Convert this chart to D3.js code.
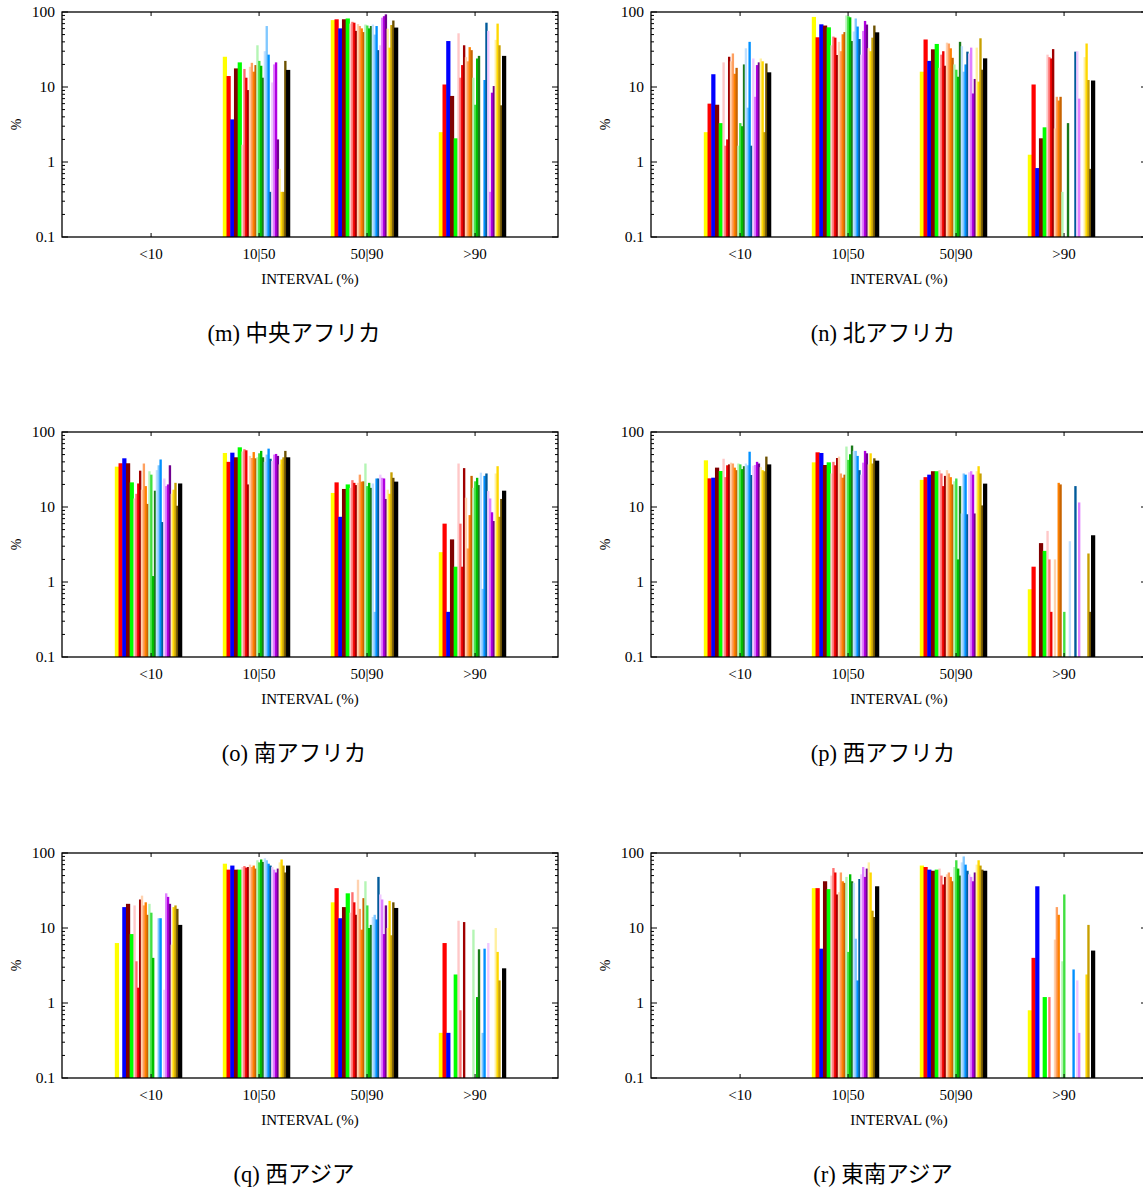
<!DOCTYPE html>
<html><head><meta charset="utf-8">
<script src="https://cdn.jsdelivr.net/npm/d3@7"></script>
<style>body{margin:0;background:#fff;overflow:hidden}</style>
</head><body>
<svg id="c" width="1143" height="1191"></svg>
<script>
// ---------- data ----------
const intervals = ["<10", "10|50", "50|90", ">90"];
const yTickValues = [0.1, 1, 10, 100];
const yTickLabels = ["0.1", "1", "10", "100"];
const xAxisTitle = "INTERVAL (%)";
const yAxisTitle = "%";
const panelLetters = ["(m)", "(n)", "(o)", "(p)", "(q)", "(r)"];
const panelRegions = ["中央アフリカ", "北アフリカ", "南アフリカ", "西アフリカ", "西アジア", "東南アジア"];

const seriesNames = ["Y", "R", "B", "DR", "G",
  "R1", "R2", "R3", "R4", "O1", "O2", "O3", "O4", "G1", "G2", "G3", "G4",
  "B1", "B2", "B3", "B4", "V1", "V2", "V3", "V4", "Y1", "Y2", "Y3", "Y4", "K"];
const seriesKind = ["all", "all", "all", "all", "all",
  "sub", "sub", "sub", "sub", "sub", "sub", "sub", "sub", "sub", "sub", "sub", "sub",
  "sub", "sub", "sub", "sub", "sub", "sub", "sub", "sub", "sub", "sub", "sub", "sub", "all"];
const seriesColors = ["#ffff00", "#ff0000", "#0000ff", "#800000", "#00ff00",
  "#ffc8c8", "#ff7070", "#ee0000", "#a00000",
  "#ffd2b0", "#ffa060", "#ff8000", "#c86400",
  "#b4f5b4", "#40e040", "#00c000", "#1a7a1a",
  "#c0e0ff", "#80c8ff", "#0090ff", "#005a9a",
  "#f0c8ff", "#e080ff", "#b000e0", "#700090",
  "#fff0a0", "#ffd800", "#c8a000", "#6b5000", "#000000"];

// values per panel: one row per interval, one value per series (0 = no bar)
const valuesM = [
  [0,0,0,0,0, 0,0,0,0, 0,0,0,0, 0,0,0,0, 0,0,0,0, 0,0,0,0, 0,0,0,0, 0],
  [25.3,14,3.7,17.7,21.3, 1.7,17.4,13.3,9.1, 18.6,21,16,19.6, 36,22.3,19.2,13.3, 30,65,27,0.4, 11.5,20,21.3,2.0, 0.81,0.4,0.4,22.3, 16.9],
  [78,80,60.5,80,82, 70,74,72,56, 69,65,60.5,54, 68,66,60.5,65, 68,50,65,31, 36,84,88,93, 60,33.5,67,77, 62],
  [2.5,10.8,41,7.6,2.07, 52,13.3,19.6,36, 25,22,34,31, 13.3,5.8,24,26, 0,0,12.4,72, 56,0.4,8.4,10.3, 42.5,70,36,5.7, 26]
];
const valuesN = [
  [2.5,6,14.8,5.8,3.3, 21.3,1.65,2.0,25.3, 22,28,15,18, 1.65,3.3,3.0,20, 32.8,5.3,40,1.65, 24,7.4,19.6,21.3, 24,22,2.5,20.6, 15.7],
  [86,46,68.5,66,62.5, 36,47,45.5,26.7, 40,30,50.5,54, 90,88,85,41, 55,82,64,43.6, 27,56,76,68, 33,30,45.5,66, 53.6],
  [16,43,22.3,31.8,37.5, 18,27,30,19.2, 39,38,32.8,24.5, 20,17,13.7,40, 35,16,20,29.6, 28,33.5,8.2,12.8, 33.5,11.8,44.6,17, 24.1],
  [1.25,10.8,0.83,2.07,2.9, 27,25,24,32, 2.8,7.4,6.6,7.4, 0.4,0,0,3.3, 0,0,0,29.6, 30,7,0,0, 25,38,12.4,0.81, 12.2]
];
const valuesO = [
  [34.5,38.3,44.6,38.3,21.3, 13,15,20.6,30.5, 17,38,19,11, 30,27,1.2,16.5, 31,36,43,6.3, 24,19,20,36, 15,17,21,10.4, 20.6],
  [52.5,40,53,46,62.5, 55,59,57,20, 48,45,54,44.6, 46,52,56,46, 40,50,60,44, 41,50,51,48, 37,43,46,56, 46],
  [15.4,21.3,7.4,17.4,20, 18,22.8,21,19.6, 21,27,21.8,22, 38,19,21,18, 20.6,0.4,24,24, 27,24.5,24,12.8, 17,15,29,24.5, 21.8],
  [2.5,6,0.4,3.7,1.6, 38,6,1.6,33, 13.3,2.8,7.8,26, 18,22,24.5,19.6, 28.7,0.81,26,28, 16.3,13,8.5,6.5, 28,35,7.4,12.8, 16.5]
];
const valuesP = [
  [41.9,24.1,24.6,33.5,30.2, 44,25,36,37, 39,38,33.5,31, 38,37,32,35, 38,36,54.6,26.7, 35.6,36.3,40,38, 34,31,30,47, 37],
  [39.4,53.6,52.5,36.3,39.4, 28,40,36,45, 47,28,24.6,27, 64,42.5,50.5,66, 56,56,48,31, 27,39,56,52, 37,52,38,44.6, 41.5],
  [23,25,27,30,30, 31,28,19,26, 31,28,25,20, 22,24,2,19, 8.2,28,27,8, 29,30,27,8.2, 30,35,28,10.5, 20.5],
  [0.8,1.6,0,3.3,2.6, 4.8,2.0,0.4,0, 2.0,0,21,20, 0,0.4,0,0, 3.5,0,0,19, 0,11.5,0,0, 0,0,2.4,0.4, 4.2]
];
const valuesQ = [
  [6.3,0,19,21,8.3, 20,3.6,1.6,24, 27,20,22,15, 21,16,4,0, 0,13.5,13.5,0, 1.5,29,26,21, 6,19,20,18, 11],
  [72,60,68,60,60, 65,67,64,65, 70,65,68,62, 80,75,82,76, 85,80,72,68, 65,60,55,62, 75,82,68,55, 68],
  [22,34,13.5,19,29, 16,30,22,15, 44,18,9.5,25, 42,20,10,11, 14,15,13,48, 28,24,8.3,20, 10,23,8,22, 18.5],
  [0.4,6.3,0.4,0,2.4, 12.5,0.8,0,12, 0,0,0,0, 9.5,0,1.2,5.2, 0,0.4,5.3,0, 6.3,0,0,0, 10,4.8,2,0, 2.9]
];
const valuesR = [
  [0,0,0,0,0, 0,0,0,0, 0,0,0,0, 0,0,0,0, 0,0,0,0, 0,0,0,0, 0,0,0,0, 0],
  [34,34,5.3,42,33, 50,63,55,28, 30,55,42,40, 48,4.8,52,42, 40,7.2,2,45, 52,65,48,62, 75,55,17,14, 36],
  [68,65,60,58,60, 62,50,38,48, 52,55,48,42, 65,80,62,50, 75,90,70,58, 52,48,42,55, 70,80,68,60, 58],
  [0.8,4,36,0,1.2, 0,1.2,0,0, 7,19,15,0, 3.6,28,0,0, 0,0,2.8,0, 2,0.4,0,0, 0,2.4,11,0, 5]
];
const panelValues = [valuesM, valuesN, valuesO, valuesP, valuesQ, valuesR];

// ---------- layout ----------
const svg = d3.select("#c");
const frameW = 496, frameH = 225;
const colX = [62, 651];
const rowY = [12, 432, 853];
const serif = "'Liberation Serif','Times New Roman',serif";
const titleFont = "'Liberation Serif','Noto Sans CJK JP',serif";

// bar slots within a group (in x-data units)
const groupStart = -0.336, groupEnd = 0.284;
const weights = seriesKind.map(k => k === "all" ? 2 : 1);
const totalW = d3.sum(weights);
const cum = d3.cumsum([0, ...weights]);
const unit = (groupEnd - groupStart) / totalW;

panelValues.forEach((vals, pi) => {
  const col = pi % 2, row = Math.floor(pi / 2);
  const x0 = colX[col], y0 = rowY[row];
  const g = svg.append("g");
  const x = d3.scaleLinear().domain([-0.825, 3.768]).range([x0, x0 + frameW]);
  const y = d3.scaleLog().domain([0.1, 100]).range([y0 + frameH, y0]);

  // bars
  vals.forEach((row, gi) => {
    row.forEach((v, si) => {
      if (!v || v <= 0) return;
      const xa = x(gi + groupStart + cum[si] * unit);
      const xb = x(gi + groupStart + cum[si + 1] * unit);
      g.append("rect")
        .attr("x", xa).attr("width", (xb - xa) + 0.5)
        .attr("y", y(v)).attr("height", y(0.1) - y(v))
        .attr("fill", seriesColors[si]);
    });
  });

  // frame
  g.append("rect").attr("x", x0).attr("y", y0).attr("width", frameW).attr("height", frameH)
    .attr("fill", "none").attr("stroke", "#000").attr("stroke-width", 1.3);

  // y ticks (major + minor) on both sides, inward
  const minor = [];
  [0.1, 1, 10].forEach(d => { for (let k = 2; k <= 9; k++) minor.push(k * d); });
  const tickG = g.append("g").attr("stroke", "#000").attr("stroke-width", 1);
  yTickValues.forEach(v => {
    tickG.append("line").attr("x1", x0).attr("x2", x0 + 6).attr("y1", y(v)).attr("y2", y(v));
    tickG.append("line").attr("x1", x0 + frameW).attr("x2", x0 + frameW - 6).attr("y1", y(v)).attr("y2", y(v));
  });
  minor.forEach(v => {
    tickG.append("line").attr("x1", x0).attr("x2", x0 + 3).attr("y1", y(v)).attr("y2", y(v));
    tickG.append("line").attr("x1", x0 + frameW).attr("x2", x0 + frameW - 3).attr("y1", y(v)).attr("y2", y(v));
  });
  intervals.forEach((c, i) => {
    tickG.append("line").attr("x1", x(i)).attr("x2", x(i)).attr("y1", y0).attr("y2", y0 + 4);
    tickG.append("line").attr("x1", x(i)).attr("x2", x(i)).attr("y1", y0 + frameH).attr("y2", y0 + frameH - 4);
  });

  // y tick labels
  yTickValues.forEach((v, i) => {
    g.append("text").attr("x", x0 - 7).attr("y", y(v)).attr("dy", "0.35em")
      .attr("text-anchor", "end").attr("font-family", serif).attr("font-size", 15.5)
      .text(yTickLabels[i]);
  });
  // y title
  g.append("text").attr("transform", `translate(${x0 - 46},${y0 + frameH / 2}) rotate(-90)`)
    .attr("text-anchor", "middle").attr("dy", "0.35em")
    .attr("font-family", serif).attr("font-size", 14).text(yAxisTitle);

  // x tick labels
  intervals.forEach((c, i) => {
    g.append("text").attr("x", x(i)).attr("y", y0 + frameH + 17).attr("dy", "0.35em")
      .attr("text-anchor", "middle").attr("font-family", serif).attr("font-size", 15).text(c);
  });
  // x title
  g.append("text").attr("x", x0 + frameW / 2).attr("y", y0 + frameH + 42).attr("dy", "0.35em")
    .attr("text-anchor", "middle").attr("font-family", serif).attr("font-size", 15).text(xAxisTitle);

  // subtitle
  g.append("text").attr("x", col === 0 ? 294 : 883).attr("y", y0 + frameH + 96).attr("dy", "0.35em")
    .attr("text-anchor", "middle").attr("font-family", titleFont).attr("font-size", 22.5)
    .text(panelLetters[pi] + " " + panelRegions[pi]);
});
</script>
</body></html>
